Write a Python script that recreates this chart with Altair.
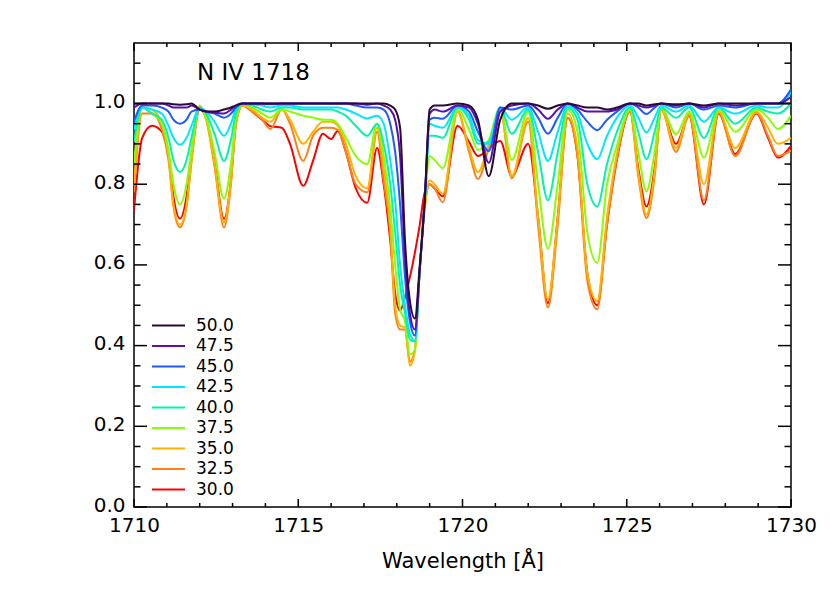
import altair as alt
import pandas as pd

wavelength = [1710.0, 1710.25, 1710.55, 1710.85, 1711.05, 1711.2, 1711.4, 1711.6, 1711.75, 1712.0,
              1712.2, 1712.45, 1712.74, 1712.95, 1713.1, 1713.3, 1713.6, 1713.9, 1714.15, 1714.5,
              1714.75, 1715.15, 1715.45, 1715.75, 1716.0, 1716.2, 1716.45, 1716.75, 1717.1, 1717.4,
              1717.6, 1717.8, 1717.95, 1718.1, 1718.25, 1718.4, 1718.55, 1718.7, 1718.85, 1719.0,
              1719.15, 1719.4, 1719.85, 1720.2, 1720.47, 1720.8, 1721.15, 1721.5, 1722.0, 1722.3,
              1722.6, 1722.9, 1723.2, 1723.5, 1723.8, 1724.1, 1724.4, 1724.7, 1725.1, 1725.35,
              1725.6, 1725.85, 1726.05, 1726.5, 1726.9, 1727.35, 1727.8, 1728.3, 1728.95, 1729.3,
              1729.6, 1730.0]

flux_500 = [1.0, 1.0, 1.0, 1.0, 1.0, 0.998, 0.997, 0.998, 1.0, 0.985,
            0.98, 0.98, 0.985, 0.99, 0.995, 1.0, 1.0, 1.0, 1.0, 1.0,
            1.0, 1.0, 1.0, 1.0, 1.0, 1.0, 1.0, 1.0, 1.0, 1.0,
            1.0, 0.995, 0.985, 0.94, 0.66, 0.51, 0.467, 0.60, 0.76, 0.985,
            0.995, 0.995, 1.0, 0.995, 0.96, 0.82, 0.96, 1.0, 1.0, 0.995,
            0.987, 0.995, 1.0, 0.995, 0.99, 0.99, 0.985, 0.99, 1.0, 1.0,
            0.995, 0.998, 1.0, 0.998, 1.0, 0.995, 1.0, 1.0, 1.0, 1.0,
            1.0, 1.0]
flux_475 = [0.99, 1.0, 1.0, 1.0, 0.995, 0.99, 0.99, 0.99, 0.995, 0.985,
            0.98, 0.978, 0.975, 0.985, 0.995, 1.0, 1.0, 1.0, 1.0, 1.0,
            1.0, 1.0, 1.0, 1.0, 1.0, 1.0, 1.0, 1.0, 0.997, 1.0,
            0.995, 0.985, 0.96, 0.87, 0.62, 0.48, 0.44, 0.59, 0.76, 0.975,
            0.985, 0.98, 0.995, 0.99, 0.95, 0.853, 0.98, 0.995, 1.0, 0.985,
            0.962, 0.985, 1.0, 0.99, 0.98, 0.98, 0.98, 0.985, 1.0, 0.995,
            0.99, 0.995, 1.0, 0.995, 1.0, 0.99, 1.0, 0.995, 1.0, 1.0,
            1.0, 1.016]
flux_450 = [0.955, 0.995, 0.995, 0.99, 0.98, 0.96, 0.95, 0.96, 0.98, 0.985,
            0.98, 0.975, 0.965, 0.975, 0.99, 1.0, 1.0, 1.0, 0.998, 1.0,
            1.0, 1.0, 1.0, 1.0, 1.0, 1.0, 1.0, 0.995, 0.99, 0.99,
            0.985, 0.95, 0.88, 0.75, 0.57, 0.46, 0.425, 0.59, 0.76, 0.96,
            0.965, 0.962, 0.995, 0.98, 0.93, 0.882, 0.99, 0.985, 0.995, 0.965,
            0.925, 0.965, 1.0, 0.985, 0.955, 0.934, 0.96, 0.98, 1.0, 0.99,
            0.974, 0.99, 1.0, 0.99, 1.0, 0.985, 0.995, 0.99, 1.0, 1.0,
            1.0, 1.035]
flux_425 = [0.935, 0.99, 0.985, 0.975, 0.945, 0.915, 0.898, 0.915, 0.945, 0.99,
            0.98, 0.955, 0.92, 0.95, 0.985, 1.0, 0.998, 0.995, 0.99, 0.995,
            0.995, 0.99, 0.99, 0.99, 0.99, 0.99, 0.985, 0.975, 0.963, 0.97,
            0.95, 0.86, 0.76, 0.60, 0.50, 0.43, 0.412, 0.59, 0.76, 0.95,
            0.945, 0.94, 0.99, 0.97, 0.91, 0.90, 0.99, 0.96, 0.99, 0.93,
            0.858, 0.93, 0.995, 0.975, 0.90, 0.862, 0.92, 0.965, 0.995, 0.965,
            0.928, 0.965, 0.995, 0.98, 0.995, 0.955, 0.99, 0.975, 0.995, 0.99,
            0.99, 1.03]
flux_400 = [0.905, 0.99, 0.975, 0.96, 0.915, 0.86, 0.83, 0.86, 0.915, 0.99,
            0.975, 0.925, 0.858, 0.91, 0.975, 0.998, 0.995, 0.985, 0.98, 0.99,
            0.99, 0.985, 0.985, 0.985, 0.985, 0.98, 0.97, 0.945, 0.92, 0.95,
            0.90, 0.80, 0.68, 0.55, 0.48, 0.415, 0.41, 0.59, 0.76, 0.92,
            0.92, 0.915, 0.99, 0.96, 0.90, 0.905, 0.99, 0.925, 0.985, 0.88,
            0.76, 0.88, 0.99, 0.96, 0.80, 0.745, 0.85, 0.93, 0.99, 0.93,
            0.862, 0.93, 0.99, 0.965, 0.99, 0.915, 0.99, 0.95, 0.99, 0.98,
            0.975, 1.0]
flux_375 = [0.85, 0.99, 0.975, 0.95, 0.885, 0.80, 0.75, 0.80, 0.885, 0.99,
            0.965, 0.88, 0.764, 0.85, 0.96, 0.998, 0.99, 0.975, 0.965, 0.985,
            0.98, 0.97, 0.965, 0.96, 0.96, 0.95, 0.915, 0.87, 0.85, 0.95,
            0.87, 0.74, 0.60, 0.49, 0.46, 0.378, 0.39, 0.59, 0.75, 0.87,
            0.86, 0.84, 0.985, 0.935, 0.885, 0.91, 0.99, 0.86, 0.98, 0.80,
            0.64, 0.80, 0.985, 0.93, 0.68, 0.605, 0.80, 0.895, 0.985, 0.88,
            0.782, 0.88, 0.99, 0.924, 0.98, 0.866, 0.985, 0.93, 0.985, 0.965,
            0.937, 0.97]
flux_350 = [0.80, 0.99, 0.985, 0.95, 0.87, 0.75, 0.70, 0.75, 0.86, 0.995,
            0.96, 0.85, 0.705, 0.81, 0.95, 0.995, 0.985, 0.965, 0.955, 0.985,
            0.96, 0.90, 0.93, 0.955, 0.955, 0.945, 0.90, 0.82, 0.79, 0.94,
            0.84, 0.70, 0.50, 0.45, 0.445, 0.35, 0.385, 0.59, 0.74, 0.81,
            0.80, 0.776, 0.98, 0.89, 0.83, 0.90, 0.99, 0.82, 0.965, 0.72,
            0.515, 0.72, 0.975, 0.89, 0.58, 0.51, 0.72, 0.875, 0.985, 0.83,
            0.725, 0.83, 0.985, 0.89, 0.975, 0.80, 0.98, 0.89, 0.98, 0.94,
            0.90, 0.915]
flux_325 = [0.78, 0.975, 0.975, 0.935, 0.86, 0.745, 0.693, 0.745, 0.855, 0.99,
            0.96, 0.845, 0.693, 0.80, 0.945, 0.995, 0.98, 0.96, 0.937, 0.985,
            0.95, 0.858, 0.92, 0.94, 0.94, 0.935, 0.88, 0.80, 0.78, 0.93,
            0.81, 0.68, 0.48, 0.44, 0.44, 0.36, 0.39, 0.59, 0.74, 0.80,
            0.79, 0.755, 0.98, 0.88, 0.813, 0.89, 0.985, 0.815, 0.955, 0.70,
            0.495, 0.70, 0.965, 0.87, 0.56, 0.49, 0.70, 0.865, 0.98, 0.82,
            0.716, 0.82, 0.985, 0.88, 0.97, 0.76, 0.977, 0.87, 0.977, 0.92,
            0.87, 0.883]
flux_300 = [0.735, 0.915, 0.945, 0.93, 0.875, 0.77, 0.715, 0.77, 0.87, 0.985,
            0.965, 0.855, 0.714, 0.81, 0.95, 0.995, 0.98, 0.96, 0.944, 0.94,
            0.90, 0.796, 0.858, 0.925, 0.912, 0.932, 0.88, 0.79, 0.754, 0.89,
            0.80, 0.66, 0.53, 0.487, 0.52, 0.57, 0.63, 0.70, 0.78, 0.80,
            0.79, 0.77, 0.945, 0.905, 0.87, 0.888, 0.907, 0.82, 0.90, 0.72,
            0.505, 0.72, 0.965, 0.87, 0.58, 0.50, 0.70, 0.86, 0.98, 0.84,
            0.745, 0.84, 0.985, 0.90, 0.97, 0.75, 0.975, 0.875, 0.975, 0.915,
            0.866, 0.895]

series_labels = ["50.0", "47.5", "45.0", "42.5", "40.0", "37.5", "35.0", "32.5", "30.0"]
series_values = [flux_500, flux_475, flux_450, flux_425, flux_400,
                 flux_375, flux_350, flux_325, flux_300]
series_colors = ["#2b0b33", "#5a0fb4", "#1e5aff", "#00e6ff", "#00f5aa",
                 "#86ff00", "#ffb300", "#ff7f1a", "#ff0000"]

x_major_ticks = [1710, 1715, 1720, 1725, 1730]
x_minor_ticks = [1711, 1712, 1713, 1714, 1716, 1717, 1718, 1719, 1721, 1722,
                 1723, 1724, 1726, 1727, 1728, 1729]
y_major_ticks = [0.0, 0.2, 0.4, 0.6, 0.8, 1.0]
y_minor_ticks = [0.05, 0.1, 0.15, 0.25, 0.3, 0.35, 0.45, 0.5, 0.55, 0.65, 0.7,
                 0.75, 0.85, 0.9, 0.95, 1.05, 1.1]

rows = []
for label, vals in reversed(list(zip(series_labels, series_values))):
    for w, f in zip(wavelength, vals):
        rows.append({"wl": w, "flux": f, "T": label})
df = pd.DataFrame(rows)

W, H = 657, 464
FONT = "DejaVu Sans"
xscale = alt.Scale(domain=[1710, 1730], nice=False, zero=False)
yscale = alt.Scale(domain=[0, 1.15], nice=False, zero=False)

x_axis = alt.Axis(values=x_major_ticks, format="d", title="Wavelength [Å]",
                  ticks=False, domain=False, grid=False, labelFlush=False,
                  labelFontSize=20, labelPadding=8, titleFontSize=21,
                  titlePadding=15, titleFontWeight="normal")
y_axis = alt.Axis(values=y_major_ticks, format=".1f", title=None, ticks=False,
                  domain=False, grid=False, labelFontSize=20, labelPadding=9,
                  labelOffset=-2)

lines = alt.Chart(df).mark_line(strokeWidth=2, interpolate="monotone", clip=True).encode(
    x=alt.X("wl:Q", scale=xscale, axis=x_axis),
    y=alt.Y("flux:Q", scale=yscale, axis=y_axis),
    color=alt.Color("T:N", sort=series_labels,
                    scale=alt.Scale(domain=series_labels, range=series_colors),
                    legend=alt.Legend(orient="none", legendX=26, legendY=274, title=None,
                                      symbolType="M-3,0H3", symbolSize=121,
                                      symbolStrokeWidth=2, labelFontSize=17,
                                      labelFont=FONT, rowPadding=2.5, padding=0,
                                      labelOffset=19)),
)

def xticks(vals, length):
    d = pd.DataFrame({"wl": vals})
    bottom = alt.Chart(d).mark_rule(color="black", strokeWidth=1.5).encode(
        x=alt.X("wl:Q", scale=xscale, axis=x_axis), y=alt.value(H), y2=alt.value(H - length))
    top = alt.Chart(d).mark_rule(color="black", strokeWidth=1.5).encode(
        x=alt.X("wl:Q", scale=xscale, axis=x_axis), y=alt.value(0), y2=alt.value(length))
    return [bottom, top]

def yticks(vals, length):
    d = pd.DataFrame({"flux": vals})
    left = alt.Chart(d).mark_rule(color="black", strokeWidth=1.5).encode(
        y=alt.Y("flux:Q", scale=yscale, axis=y_axis), x=alt.value(0), x2=alt.value(length))
    right = alt.Chart(d).mark_rule(color="black", strokeWidth=1.5).encode(
        y=alt.Y("flux:Q", scale=yscale, axis=y_axis), x=alt.value(W), x2=alt.value(W - length))
    return [left, right]

label = alt.Chart(pd.DataFrame({"t": ["N IV 1718"]})).mark_text(
    align="left", baseline="middle", fontSize=23, font=FONT, color="black").encode(
    x=alt.value(63), y=alt.value(30), text="t:N")

layers = [lines] + xticks(x_major_ticks, 8) + xticks(x_minor_ticks, 4) \
    + yticks(y_major_ticks, 13) + yticks(y_minor_ticks, 6.5) + [label]

chart = alt.layer(*layers).properties(
    width=W, height=H,
    padding={"left": 126, "top": 35, "right": 30, "bottom": 70},
    autosize=alt.AutoSizeParams(type="none"),
).configure_view(stroke="black", strokeWidth=1.5).configure_axis(
    labelFont=FONT, titleFont=FONT, labelColor="black", titleColor="black")

chart.save("out.html", embed_options={"renderer": "svg", "actions": False})
